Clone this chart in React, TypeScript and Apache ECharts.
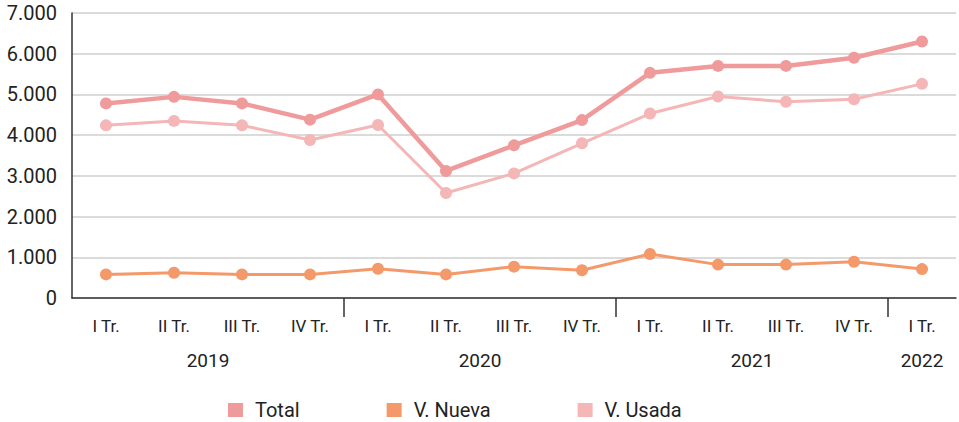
import React, { useEffect, useRef } from "react";
import * as echarts from "echarts";

const quarters = ["I Tr.", "II Tr.", "III Tr.", "IV Tr.", "I Tr.", "II Tr.", "III Tr.", "IV Tr.", "I Tr.", "II Tr.", "III Tr.", "IV Tr.", "I Tr."];
const years = ["2019", "2020", "2021", "2022"];
const yearCenters = [2, 6, 10, 12.5];
const yearBoundaries = [4, 8, 12];
const total = [4780, 4940, 4780, 4380, 5000, 3120, 3750, 4370, 5530, 5700, 5700, 5900, 6300];
const nueva = [580, 620, 580, 580, 720, 580, 770, 680, 1080, 820, 820, 890, 710];
const usada = [4240, 4350, 4240, 3880, 4250, 2580, 3060, 3800, 4530, 4950, 4820, 4880, 5260];

const FONT = "Roboto";
const TEXT = "#222";

export default function App() {
  const ref = useRef<HTMLDivElement>(null);
  useEffect(() => {
    if (!ref.current) return;
    const chart = echarts.init(ref.current, null, { renderer: "svg" });
    chart.setOption({
      animation: false,
      textStyle: { fontFamily: FONT },
      grid: { left: 72, right: 3, top: 13, bottom: 124, containLabel: false },
      legend: {
        left: 228,
        top: 400,
        padding: 0,
        itemWidth: 15,
        itemHeight: 14,
        itemGap: 87,
        icon: "rect",
        textStyle: { fontFamily: FONT, fontSize: 20, color: TEXT, padding: [0, 0, 0, 7] },
        data: ["Total", "V. Nueva", "V. Usada"],
      },
      xAxis: [
        {
          type: "category",
          data: quarters,
          boundaryGap: true,
          axisLine: { lineStyle: { color: "#333", width: 1.5 } },
          axisTick: { interval: 0, length: 5, lineStyle: { color: "#ccc", width: 1 } },
          axisLabel: { interval: 0, margin: 19, fontSize: 17, color: TEXT, fontFamily: FONT },
        },
        {
          type: "value",
          position: "bottom",
          min: 0,
          max: 13,
          axisLine: { show: false },
          splitLine: { show: false },
          axisTick: { show: true, customValues: yearBoundaries, length: 19, lineStyle: { color: "#333", width: 1.5 } },
          axisLabel: {
            customValues: yearCenters,
            margin: 53,
            fontSize: 19,
            color: TEXT,
            fontFamily: FONT,
            formatter: (v: number) => {
              const i = yearCenters.indexOf(v);
              return i >= 0 ? years[i] : "";
            },
          },
        },
      ],
      yAxis: {
        type: "value",
        min: 0,
        max: 7000,
        interval: 1000,
        axisLine: { show: true, lineStyle: { color: "#333", width: 1.5 } },
        axisTick: { show: false },
        splitLine: { lineStyle: { color: "#cfcfcf", width: 1.5 } },
        axisLabel: {
          margin: 15,
          fontSize: 20,
          color: TEXT,
          fontFamily: FONT,
          formatter: (v: number) => v.toLocaleString("de-DE"),
        },
      },
      series: [
        {
          name: "V. Nueva",
          type: "line",
          data: nueva,
          symbol: "circle",
          symbolSize: 12,
          itemStyle: { color: "#F3996A" },
          lineStyle: { color: "#F3996A", width: 3 },
        },
        {
          name: "V. Usada",
          type: "line",
          data: usada,
          symbol: "circle",
          symbolSize: 12,
          itemStyle: { color: "#F4B6B6" },
          lineStyle: { color: "#F4B6B6", width: 3 },
        },
        {
          name: "Total",
          type: "line",
          data: total,
          symbol: "circle",
          symbolSize: 12,
          itemStyle: { color: "#EF9B9B" },
          lineStyle: { color: "#EF9B9B", width: 4.5 },
        },
      ],
    });
    return () => chart.dispose();
  }, []);
  return <div ref={ref} style={{ width: 959, height: 422, position: "absolute", left: 0, top: 0 }} />;
}
